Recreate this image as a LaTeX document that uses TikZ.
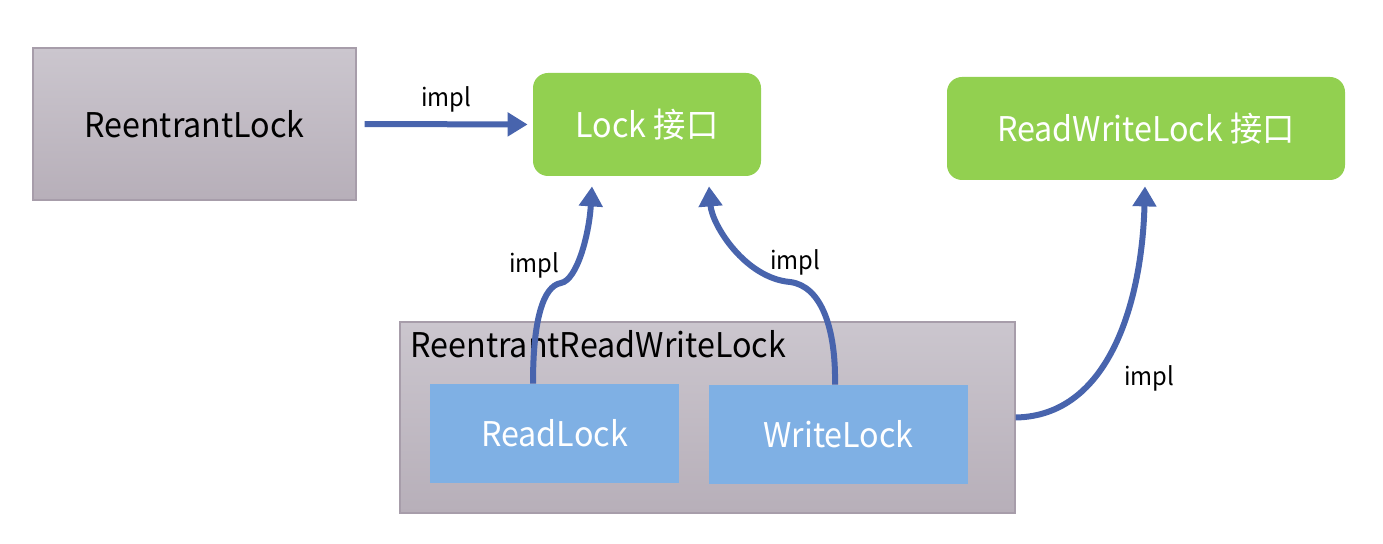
\documentclass[tikz,border=0pt]{standalone}
\usepackage{fontspec}
\setmainfont[FakeStretch=0.95]{Noto Sans CJK SC}
\usetikzlibrary{arrows.meta}
\definecolor{gtop}{HTML}{CBC6CE}
\definecolor{gbot}{HTML}{B7AFB9}
\definecolor{gborder}{HTML}{A79DAA}
\definecolor{igreen}{HTML}{92D050}
\definecolor{lblue}{HTML}{7FB0E4}
\definecolor{arr}{HTML}{4864AD}
\tikzset{
  graybox/.style={draw=gborder, line width=0.6pt, top color=gtop, bottom color=gbot, inner sep=0pt},
  ifacebox/.style={fill=igreen, rounded corners=7.5pt, inner sep=0pt, text=white, font=\fontsize{17pt}{20pt}\selectfont},
  lockbox/.style={fill=lblue, inner sep=0pt, text=white, font=\fontsize{17pt}{20pt}\selectfont},
  implarrow/.style={draw=arr, line width=3pt, -{Triangle[length=10pt,width=11.5pt]}},
  lbl/.style={font=\fontsize{12.5pt}{15pt}\selectfont, inner sep=0pt}
}
\begin{document}
\begin{tikzpicture}[x=0.5pt,y=-0.5pt]
\useasboundingbox (0,0) rectangle (1383,544);
% boxes
\node[graybox, minimum width=161.5pt, minimum height=76pt, font=\fontsize{17pt}{20pt}\selectfont] (rlock) at (194.5,124) {ReentrantLock};
\node[ifacebox, minimum width=114pt, minimum height=51.5pt] (lock) at (647,124.5) {Lock 接口};
\node[ifacebox, minimum width=199pt, minimum height=51.5pt] (rwl) at (1146,128.5) {ReadWriteLock 接口};
\node[graybox, minimum width=307.5pt, minimum height=95.5pt] (outer) at (707.5,417.5) {};
\node[anchor=base west, inner sep=0pt, font=\fontsize{17pt}{20pt}\selectfont] (title) at (410,358) {ReentrantReadWriteLock};
\node[lockbox, minimum width=124.5pt, minimum height=49.5pt] (rl) at (554.5,433.5) {ReadLock};
\node[lockbox, minimum width=129.5pt, minimum height=49.5pt] (wl) at (838.5,434.5) {WriteLock};
% kink coordinates
\coordinate (rk) at (561,283);
\coordinate (wk) at (790,282);
% arrows
\draw[implarrow, shorten <=4pt, shorten >=2.5pt] (rlock.east) -- (lock.west);
\node[lbl] (l1) at (446,99) {impl};
\draw[implarrow] ([xshift=-10.75pt]rl.north) .. controls (533,320) and (543,286) .. (rk)
  .. controls (577,280) and (589,235) .. ([xshift=-27.5pt,yshift=-5pt]lock.south);
\node[lbl] (l2) at (534,265) {impl};
\draw[implarrow] ([xshift=-1.75pt]wl.north) .. controls (836,330) and (822,286) .. (wk)
  .. controls (745,278) and (712,225) .. ([xshift=31pt,yshift=-5pt]lock.south);
\node[lbl] (l3) at (795,262) {impl};
\draw[implarrow] (outer.east) .. controls (1110,416) and (1142,300) .. ([xshift=-0.5pt,yshift=-3pt]rwl.south);
\node[lbl] (l4) at (1149,378) {impl};
\end{tikzpicture}
\end{document}
